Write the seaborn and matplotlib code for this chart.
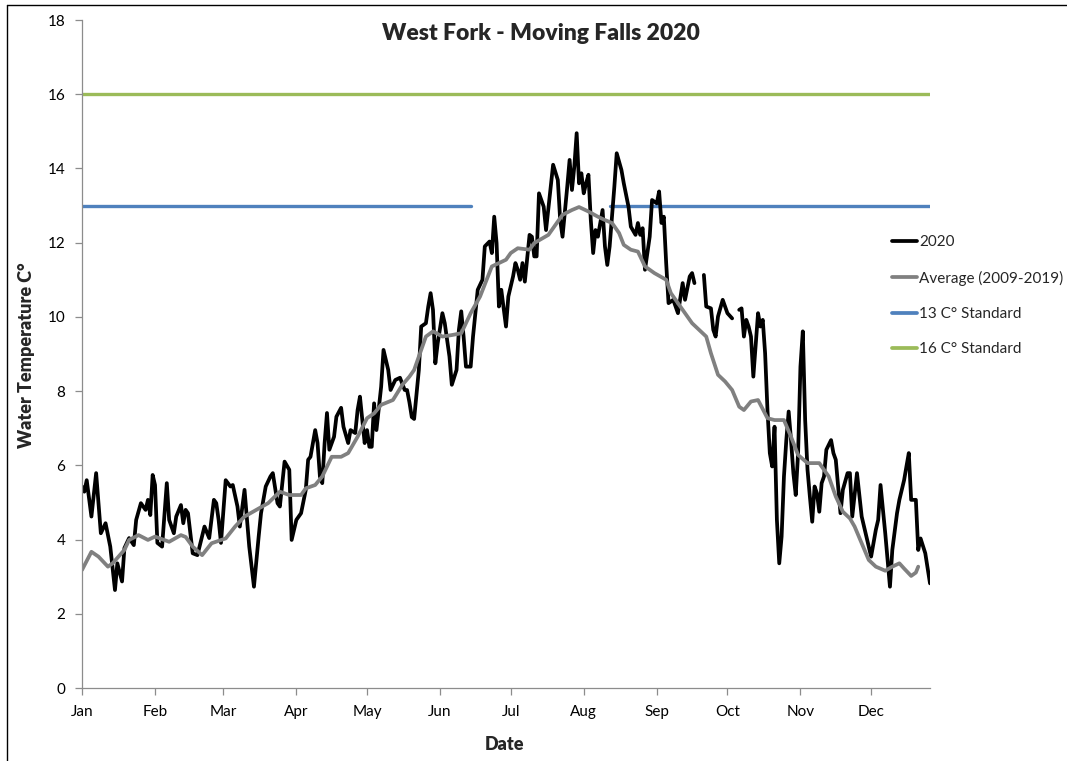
import numpy as np
import pandas as pd
import matplotlib
matplotlib.use('Agg')
import matplotlib.pyplot as plt
import matplotlib.dates as mdates
from matplotlib.lines import Line2D
import seaborn as sns

# days since 2020-01-01 and daily water temperature
days_2020 = [0, 1, 2, 4, 6, 8, 10, 12, 14, 15, 17, 18, 20, 22, 23, 25, 27, 28, 29, 30,
             31, 32, 34, 36, 37, 39, 40, 42, 43, 44, 45, 47, 49, 52, 54, 56, 57, 58, 59, 61,
             63, 64, 66, 67, 69, 71, 72, 73, 75, 76, 78, 80, 81, 83, 84, 86, 88, 89, 91, 93,
             95, 96, 97, 99, 100, 101, 102, 103, 104, 105, 107, 108, 110, 111, 113, 114, 116, 117, 118, 119,
             120, 121, 122, 123, 124, 125, 127, 128, 130, 131, 133, 135, 137, 138, 139, 140, 141, 143, 144, 146,
             147, 148, 149, 150, 151, 153, 154, 156, 157, 159, 160, 161, 162, 163, 165, 166, 168, 170, 171, 173,
             174, 175, 176, 177, 178, 180, 181, 183, 184, 185, 186, 187, 188, 190, 191, 192, 193, 194, 196, 197,
             199, 200, 202, 203, 204, 206, 207, 208, 209, 210, 211, 212, 213, 214, 215, 216, 217, 218, 219, 221,
             222, 223, 224, 226, 227, 229, 230, 232, 233, 235, 236, 237, 238, 239, 241, 242, 244, 245, 246, 247,
             248, 249, 251, 252, 253, 255, 256, 258, 259, 260, 264, 265, 267, 268, 269, 270, 272, 273, 274, 276,
             279, 280, 281, 282, 283, 284, 285, 287, 288, 289, 290, 291, 292, 293, 294, 295, 296, 297, 298, 299,
             300, 301, 302, 303, 304, 305, 306, 307, 308, 309, 310, 311, 312, 313, 314, 315, 316, 318, 319, 320,
             321, 322, 323, 325, 326, 327, 329, 331, 333, 335, 337, 338, 339, 341, 342, 343, 344, 346, 347, 349,
             350, 351, 352, 354, 355, 356, 358, 360]
temp_2020 = [5.43, 5.29, 5.60, 4.62, 5.79, 4.17, 4.44, 3.81, 2.64, 3.36, 2.87, 3.77, 4.04, 3.85, 4.53, 4.98, 4.80, 5.07, 4.66, 5.74,
             5.47, 3.91, 3.81, 5.52, 4.53, 4.17, 4.62, 4.93, 4.44, 4.80, 4.71, 3.63, 3.58, 4.35, 4.04, 5.07, 4.98, 4.53, 3.91, 5.60,
             5.43, 5.47, 4.89, 4.35, 5.34, 3.81, 3.27, 2.73, 4.08, 4.71, 5.43, 5.70, 5.79, 4.98, 4.89, 6.10, 5.88, 3.99, 4.53, 4.71,
             5.34, 6.15, 6.23, 6.95, 6.60, 5.70, 5.52, 6.60, 7.41, 6.42, 6.77, 7.31, 7.55, 7.04, 6.60, 6.95, 6.87, 7.49, 7.85, 7.22,
             6.60, 6.95, 6.50, 6.50, 7.67, 6.95, 8.12, 9.11, 8.57, 8.03, 8.30, 8.36, 8.03, 8.03, 7.70, 7.30, 7.25, 8.57, 9.74, 9.83,
             10.28, 10.64, 10.19, 8.75, 9.29, 10.10, 9.83, 8.93, 8.17, 8.57, 9.65, 10.15, 9.47, 8.66, 8.66, 9.47, 10.73, 11.00, 11.90, 12.03,
             11.72, 12.70, 11.99, 10.28, 10.73, 9.74, 10.55, 11.09, 11.45, 11.27, 11.00, 11.45, 10.95, 12.21, 12.16, 11.63, 11.63, 13.33, 12.97, 12.34,
             13.51, 14.10, 13.69, 12.61, 12.16, 13.51, 14.23, 13.42, 14.05, 14.95, 13.60, 13.87, 13.33, 13.60, 13.83, 12.61, 11.72, 12.34, 12.16, 12.88,
             11.90, 11.40, 11.90, 13.51, 14.41, 13.96, 13.60, 12.97, 12.43, 12.21, 12.53, 12.21, 12.39, 11.27, 12.16, 13.15, 13.06, 13.38, 12.53, 12.70,
             11.45, 10.37, 10.46, 10.28, 10.10, 10.91, 10.46, 11.09, 11.18, 10.91, 11.13, 10.28, 10.23, 9.65, 9.47, 10.01, 10.46, 10.28, 10.10, 9.96,
             10.19, 10.23, 9.47, 9.92, 9.74, 9.47, 8.39, 10.10, 9.74, 9.92, 9.02, 7.49, 6.33, 5.97, 7.04, 4.53, 3.36, 4.08, 5.70, 6.68,
             7.45, 6.68, 5.79, 5.20, 6.33, 8.66, 9.61, 7.22, 5.88, 5.16, 4.48, 5.43, 5.25, 4.75, 5.52, 5.70, 6.42, 6.68, 6.33, 6.15,
             5.43, 4.71, 5.34, 5.79, 5.79, 4.62, 5.79, 4.62, 4.08, 3.54, 4.26, 4.53, 5.47, 4.17, 3.45, 2.73, 3.72, 4.71, 5.07, 5.60,
             5.97, 6.33, 5.07, 5.07, 3.72, 4.03, 3.63, 2.82]
# days with no logger record (line is broken there)
missing_days_2020 = [261, 262, 263, 277, 278]

days_avg = [0, 4, 7, 11, 13, 18, 20, 24, 28, 31, 37, 42, 44, 47, 51, 55, 61, 65, 69, 74,
            79, 84, 88, 93, 95, 99, 102, 106, 110, 113, 117, 121, 124, 127, 132, 136, 139, 141, 144, 146,
            149, 153, 157, 161, 165, 169, 174, 177, 180, 182, 185, 190, 192, 198, 204, 208, 211, 215, 219, 222,
            225, 228, 230, 233, 236, 239, 243, 248, 250, 255, 259, 265, 267, 270, 273, 276, 279, 281, 284, 287,
            291, 294, 298, 301, 304, 308, 313, 317, 320, 323, 326, 328, 331, 334, 337, 341, 344, 347, 349, 352,
            354, 355]
temp_avg = [3.18, 3.67, 3.54, 3.27, 3.36, 3.72, 3.99, 4.12, 3.99, 4.08, 3.94, 4.12, 4.07, 3.81, 3.58, 3.90, 4.03, 4.35, 4.62, 4.80,
            4.98, 5.29, 5.20, 5.20, 5.38, 5.47, 5.70, 6.23, 6.23, 6.33, 6.77, 7.27, 7.40, 7.63, 7.76, 8.17, 8.39, 8.57, 9.11, 9.47,
            9.61, 9.47, 9.51, 9.56, 10.10, 10.55, 11.36, 11.45, 11.54, 11.72, 11.85, 11.81, 11.99, 12.21, 12.75, 12.88, 12.96, 12.84, 12.70, 12.61,
            12.53, 12.26, 11.94, 11.81, 11.76, 11.36, 11.18, 11.00, 10.64, 10.19, 9.83, 9.47, 9.02, 8.44, 8.26, 8.03, 7.58, 7.49, 7.72, 7.76,
            7.27, 7.22, 7.22, 6.77, 6.28, 6.06, 6.06, 5.70, 5.16, 4.75, 4.57, 4.35, 3.90, 3.45, 3.27, 3.16, 3.27, 3.36, 3.22, 3.02,
            3.11, 3.27]

# standards: periods in which each applies
std13_periods = [("2020-01-01", "2020-06-14"), ("2020-08-12", "2020-12-26")]
std16_periods = [("2020-01-01", "2020-12-26")]

series_labels = ["2020", "Average (2009-2019)", "13 C\u00b0 Standard", "16 C\u00b0 Standard"]
series_colors = ["#000000", "#808080", "#4f81bd", "#9bbb59"]

start = pd.Timestamp("2020-01-01")


def period_frame(periods, value):
    rows = []
    for i, (a, b) in enumerate(periods):
        rows.append({"date": pd.Timestamp(a), "temp": value, "segment": i})
        rows.append({"date": pd.Timestamp(b), "temp": value, "segment": i})
    return pd.DataFrame(rows)


sns.set_style("white")
plt.rcParams['font.family'] = ['Lato', 'DejaVu Sans']

fig = plt.figure(figsize=(10.67, 7.61), dpi=100)
ax = fig.add_axes([82 / 1067, 73 / 761, (930 - 82) / 1067, 668 / 761])

df_2020 = pd.DataFrame({"date": start + pd.to_timedelta(days_2020, unit="D"), "temp": temp_2020})
breaks = [any(p < m < d for m in missing_days_2020) for p, d in zip([days_2020[0]] + days_2020[:-1], days_2020)]
df_2020["segment"] = np.cumsum(breaks)
df_avg = pd.DataFrame({"date": start + pd.to_timedelta(days_avg, unit="D"), "temp": temp_avg})
df_13 = period_frame(std13_periods, 13)
df_16 = period_frame(std16_periods, 16)

sns.lineplot(data=df_16, x="date", y="temp", units="segment", estimator=None,
             color=series_colors[3], linewidth=2.4, ax=ax, legend=False)
sns.lineplot(data=df_13, x="date", y="temp", units="segment", estimator=None,
             color=series_colors[2], linewidth=2.4, ax=ax, legend=False)
sns.lineplot(data=df_2020, x="date", y="temp", units="segment", estimator=None,
             color=series_colors[0], linewidth=2.7, ax=ax, legend=False)
sns.lineplot(data=df_avg, x="date", y="temp", estimator=None,
             color=series_colors[1], linewidth=2.7, ax=ax, legend=False)

ax.set_xlim(start, pd.Timestamp("2020-12-26"))
ax.set_ylim(0, 18)
ax.set_yticks(range(0, 19, 2))
ax.xaxis.set_major_locator(mdates.MonthLocator())
ax.xaxis.set_major_formatter(mdates.DateFormatter("%b"))
ax.set_xlabel("")
ax.set_ylabel("")

for s in ["top", "right"]:
    ax.spines[s].set_visible(False)
for s in ["left", "bottom"]:
    ax.spines[s].set_color("#8c8c8c")
    ax.spines[s].set_linewidth(0.9)
ax.tick_params(bottom=True, left=True, direction="out", length=5, width=0.9,
               color="#8c8c8c", labelsize=11, labelcolor="black")
ax.tick_params(axis="x", pad=7)
ax.tick_params(axis="y", pad=7)

handles = [Line2D([0], [0], color=c, lw=2.7) for c in series_colors]
leg = ax.legend(handles, series_labels, loc="upper left", bbox_to_anchor=(886 / 1067, 1 - 229 / 761),
                bbox_transform=fig.transFigure, frameon=False, fontsize=11,
                handlelength=1.65, handletextpad=0.1, labelspacing=1.4, borderaxespad=0)

fig.text(541 / 1067, 1 - 33 / 761, "West Fork - Moving Falls 2020", ha="center", va="center",
         fontsize=16.5, fontweight="heavy")
fig.text(27 / 1067, 1 - 355 / 761, "Water Temperature C\u00b0", ha="center", va="center",
         rotation=90, fontsize=13, fontweight="heavy")
fig.text(505 / 1067, 1 - 745 / 761, "Date", ha="center", va="center", fontsize=13, fontweight="heavy")

fig.add_artist(Line2D([7 / 1067, 7 / 1067], [0, 1 - 5 / 761], transform=fig.transFigure, color="black", lw=1))
fig.add_artist(Line2D([7 / 1067, 1], [1 - 5 / 761, 1 - 5 / 761], transform=fig.transFigure, color="black", lw=1))

fig.savefig("out.png", dpi=100)
